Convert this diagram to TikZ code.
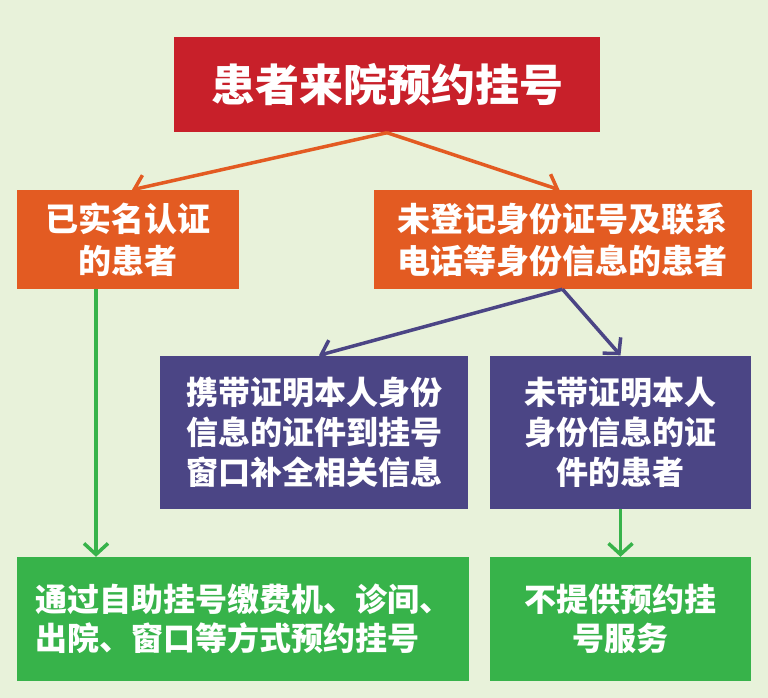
\documentclass[tikz,border=0pt]{standalone}
\usepackage{fontspec}
\setmainfont{Noto Sans CJK SC}
\usetikzlibrary{arrows.meta}
\definecolor{bg}{HTML}{E8F2DA}
\definecolor{cred}{HTML}{C8202A}
\definecolor{corange}{HTML}{E35B22}
\definecolor{cpurple}{HTML}{4B4585}
\definecolor{cgreen}{HTML}{37B34A}
\tikzset{
  box/.style={rectangle, inner sep=0pt, text=white, align=center, font=\fontsize{32}{40}\selectfont\bfseries},
  conn/.style={line width=3.5pt, -{Straight Barb[length=11pt,width=24pt,line width=3.5pt]}},
}
\begin{document}
\begin{tikzpicture}[x=1pt,y=-1pt]
\fill[bg] (0,0) rectangle (768,698);
\useasboundingbox (0,0) rectangle (768,698);
\node[box, fill=cred, minimum width=426pt, minimum height=95pt, font=\fontsize{44}{50}\selectfont\bfseries] (top) at (387,85) {患者来院预约挂号};
\node[box, fill=corange, minimum width=222pt, minimum height=99pt, font=\fontsize{33}{42}\selectfont\bfseries] (lo) at (128,239.5) {已实名认证\\的患者};
\node[box, fill=corange, minimum width=378pt, minimum height=99pt, font=\fontsize{33}{42}\selectfont\bfseries] (ro) at (562.5,239.5) {未登记身份证号及联系\\电话等身份信息的患者};
\node[box, fill=cpurple, minimum width=308pt, minimum height=153pt] (pl) at (314,432) {携带证明本人身份\\信息的证件到挂号\\窗口补全相关信息};
\node[box, fill=cpurple, minimum width=261pt, minimum height=153pt] (pr) at (620.5,432) {未带证明本人\\身份信息的证\\件的患者};
\node[box, fill=cgreen, minimum width=452pt, minimum height=124pt, align=left, font=\fontsize{32}{39}\selectfont\bfseries] (gl) at (243,619) {通过自助挂号缴费机、诊间、\\出院、窗口等方式预约挂号};
\node[box, fill=cgreen, minimum width=261pt, minimum height=124pt, font=\fontsize{32}{39}\selectfont\bfseries] (gr) at (620.5,619) {不提供预约挂\\号服务};
\draw[conn, corange] (top.south) -- ([xshift=4pt]lo.north);
\draw[conn, corange] (top.south) -- ([xshift=-3pt]ro.north);
\draw[conn, cpurple] (ro.south) -- ([xshift=5pt]pl.north);
\draw[conn, cpurple] (ro.south) -- (pr.north);
\draw[conn, cgreen] ([xshift=-32pt]lo.south) -- ([xshift=-32pt]lo.south |- gl.north);
\draw[conn, cgreen] (pr.south) -- (gr.north);
\end{tikzpicture}
\end{document}
